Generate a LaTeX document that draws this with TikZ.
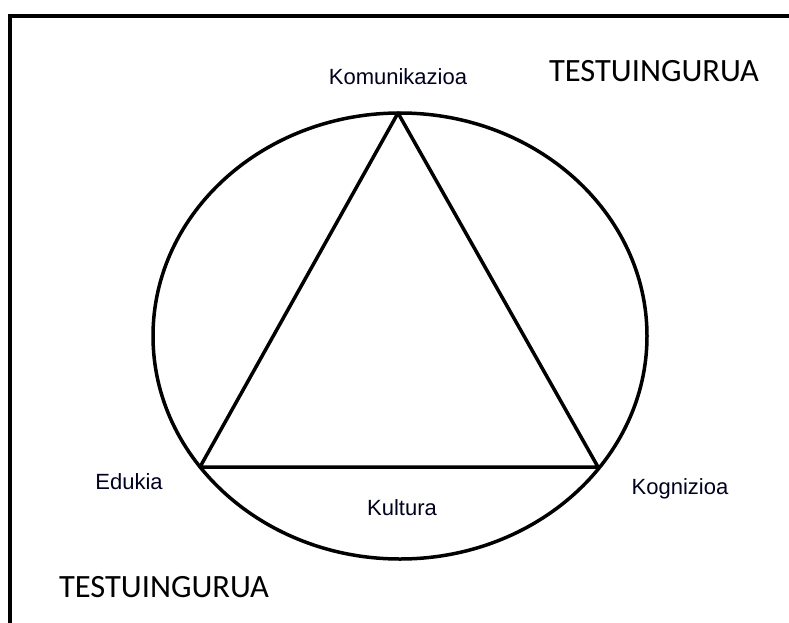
\documentclass[tikz,border=0pt]{standalone}
\usepackage{fontspec}
\setmainfont{Liberation Sans}
\newfontfamily\ctxfont{Carlito}
\begin{document}
\begin{tikzpicture}[x=1pt,y=-1pt,
  lbl/.style={anchor=base,inner sep=0pt,font=\fontsize{22}{24}\selectfont,text=black!88!blue},
  ctx/.style={anchor=base,inner sep=0pt,font=\ctxfont\fontsize{32.5}{36}\selectfont,text=black},
  shp/.style={line width=3.5pt,black}]
\useasboundingbox (0,0) rectangle (789,623);
\clip (0,0) rectangle (789,623);
\fill[white] (0,0) rectangle (789,623);
\draw[line width=4pt] (10.3,16) rectangle (900,700);
\coordinate (K) at (398,113);
\coordinate (E) at (200,467);
\coordinate (G) at (598,467);
\draw[shp] (400,336) ellipse [x radius=247, y radius=223];
\draw[shp,line join=round] (K) -- (E) -- (G) -- cycle;
\node[lbl] (kom) at (398,85) {Komunikazioa};
\node[lbl] (edu) at (129,489) {Edukia};
\node[lbl] (kog) at (680,494) {Kognizioa};
\node[lbl] (kul) at (402,515) {Kultura};
\node[ctx] (t1) at (654,82) {TESTUINGURUA};
\node[ctx] (t2) at (164,597) {TESTUINGURUA};
\end{tikzpicture}
\end{document}
